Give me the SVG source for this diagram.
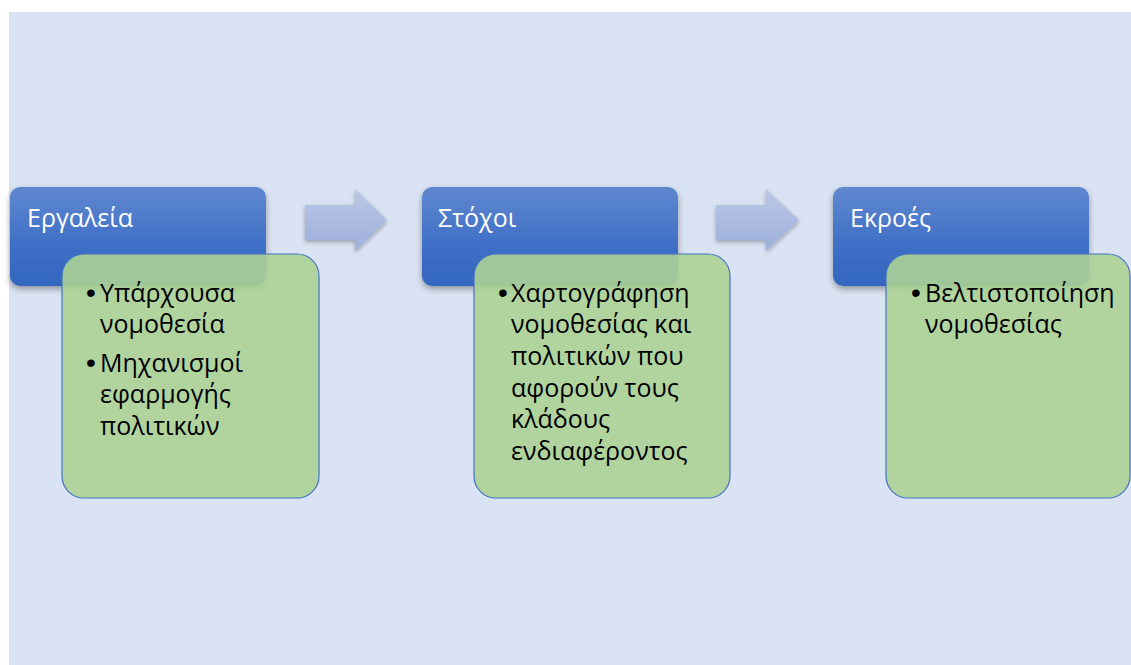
<svg xmlns="http://www.w3.org/2000/svg" width="1131" height="665" viewBox="0 0 1131 665">
<style>
.hdr{fill:url(#gBlue);filter:url(#sh)}
.body{fill:#acd296;fill-opacity:0.9;stroke:#4472c4;stroke-width:1.2}
.arrow{fill:url(#gArr);filter:url(#sh2)}
.t{font-family:"Open Sans","Noto Sans","Liberation Sans",sans-serif}
.ht{fill:#ffffff;font-size:25px}
.bt{fill:#000000;font-size:25px}
.bu{font-family:"Liberation Sans",sans-serif;font-size:28px}
</style>
<defs>
<linearGradient id="gBlue" x1="0" y1="0" x2="0" y2="1">
<stop offset="0" stop-color="#6088d0"/>
<stop offset="0.6" stop-color="#3e6fc6"/>
<stop offset="1" stop-color="#3366bf"/>
</linearGradient>
<linearGradient id="gArr" x1="0" y1="0" x2="0" y2="1">
<stop offset="0" stop-color="#bbc7e6"/>
<stop offset="1" stop-color="#9dafda"/>
</linearGradient>
<filter id="sh" x="-10%" y="-10%" width="125%" height="130%">
<feDropShadow dx="0" dy="3" stdDeviation="3" flood-color="#000" flood-opacity="0.35"/>
</filter>
<filter id="sh2" x="-10%" y="-10%" width="125%" height="130%">
<feDropShadow dx="0" dy="2" stdDeviation="2" flood-color="#000" flood-opacity="0.3"/>
</filter>
</defs>
<rect x="0" y="0" width="1131" height="665" fill="#ffffff"/>
<rect x="9" y="12" width="1122" height="653" fill="#dae3f3"/>

<g id="connectors">
<path class="arrow" d="M305,205 H355 V189 L387,220 L355,251 V240 H305 Z"/>
<path class="arrow" d="M716,205 H766 V189 L799,220 L766,251 V240 H716 Z"/>
</g>

<g id="node-tools">
<rect class="hdr" x="10" y="187" width="256" height="99" rx="10"/>
<text class="t ht" x="27" y="227">Εργαλεία</text>
<rect class="body" x="62" y="254" width="257" height="244" rx="22"/>
<text class="t bt">
<tspan class="bu" x="86" y="302">•</tspan><tspan x="100" y="302">Υπάρχουσα</tspan>
<tspan x="100" y="333">νομοθεσία</tspan>
<tspan class="bu" x="86" y="372">•</tspan><tspan x="100" y="372">Μηχανισμοί</tspan>
<tspan x="100" y="403">εφαρμογής</tspan>
<tspan x="100" y="435">πολιτικών</tspan>
</text>
</g>

<g id="node-goals">
<rect class="hdr" x="422" y="187" width="256" height="99" rx="10"/>
<text class="t ht" x="438" y="227">Στόχοι</text>
<rect class="body" x="474" y="254" width="256" height="244" rx="22"/>
<text class="t bt">
<tspan class="bu" x="498" y="302">•</tspan><tspan x="511" y="302">Χαρτογράφηση</tspan>
<tspan x="511" y="333">νομοθεσίας και</tspan>
<tspan x="511" y="365">πολιτικών που</tspan>
<tspan x="511" y="397">αφορούν τους</tspan>
<tspan x="511" y="428">κλάδους</tspan>
<tspan x="511" y="460">ενδιαφέροντος</tspan>
</text>
</g>

<g id="node-outputs">
<rect class="hdr" x="833" y="187" width="256" height="99" rx="10"/>
<text class="t ht" x="850" y="227">Εκροές</text>
<rect class="body" x="886" y="254" width="244" height="244" rx="22"/>
<text class="t bt">
<tspan class="bu" x="911" y="302">•</tspan><tspan x="925" y="302">Βελτιστοποίηση</tspan>
<tspan x="925" y="333">νομοθεσίας</tspan>
</text>
</g>
</svg>
